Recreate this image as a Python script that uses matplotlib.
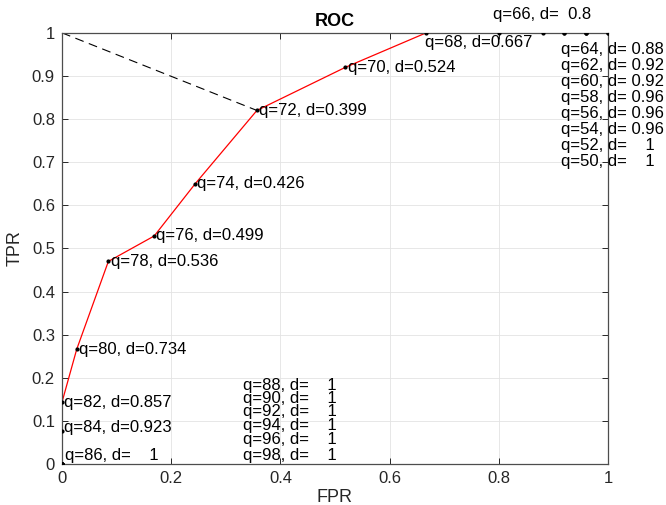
import matplotlib
matplotlib.use('Agg')
import matplotlib.pyplot as plt

plt.rcParams['font.family'] = ['Liberation Sans', 'DejaVu Sans']

# ROC data: threshold q, false/true positive rate, distance d to (0,1)
q = [50, 52, 54, 56, 58, 60, 62, 64, 66, 68, 70, 72, 74,
     76, 78, 80, 82, 84, 86, 88, 90, 92, 94, 96, 98]
fpr = [1, 1, 0.96, 0.96, 0.96, 0.92, 0.92, 0.88, 0.8, 0.667, 0.519, 0.357, 0.244,
       0.169, 0.085, 0.027, 0, 0, 0, 0, 0, 0, 0, 0, 0]
tpr = [1, 1, 1, 1, 1, 1, 1, 1, 1, 1, 0.92, 0.82, 0.65,
       0.529, 0.47, 0.266, 0.143, 0.077, 0, 0, 0, 0, 0, 0, 0]
d = [1, 1, 0.96, 0.96, 0.96, 0.92, 0.92, 0.88, 0.8, 0.667, 0.524, 0.399, 0.426,
     0.499, 0.536, 0.734, 0.857, 0.923, 1, 1, 1, 1, 1, 1, 1]

# where each label sits (left edge, vertical centre), in data units
label_x = [0.914] * 8 + [0.789, 0.665, 0.523, 0.361, 0.248,
                         0.173, 0.089, 0.031, 0.004, 0.004, 0.005] + [0.332] * 6
label_y = [0.701, 0.738, 0.775, 0.812, 0.849, 0.886, 0.924, 0.961, 1.042, 0.977,
           0.92, 0.82, 0.65, 0.529, 0.47, 0.266, 0.143, 0.084, 0.021,
           0.183, 0.153, 0.123, 0.090, 0.058, 0.021]

fig = plt.figure(figsize=(6.66, 5.05), dpi=100)
ax = fig.add_axes([0.093, 0.081, 0.820, 0.854])

ax.plot(fpr, tpr, color='red', lw=0.9, zorder=2)
ax.plot(fpr, tpr, 'k.', ms=4, zorder=3)

# line from the ideal corner to the closest point
best = d.index(min(d))
ax.plot([0, fpr[best]], [1, tpr[best]], color='black', lw=0.8,
        linestyle=(0, (8, 5)), zorder=2)

for qi, di, lx, ly in zip(q, d, label_x, label_y):
    ax.text(lx, ly, f'q={qi}, d={di:5.3g}', fontsize=12, va='center', ha='left')

ax.set_xlim(0, 1)
ax.set_ylim(0, 1)
ax.set_xticks([0, 0.2, 0.4, 0.6, 0.8, 1])
ax.set_xticklabels(['0', '0.2', '0.4', '0.6', '0.8', '1'])
ax.set_yticks([i / 10 for i in range(11)])
ax.set_yticklabels(['0'] + [f'{i / 10:g}' for i in range(1, 10)] + ['1'])
ax.grid(True, color='#e3e3e3', lw=0.6)
ax.set_axisbelow(True)
ax.tick_params(direction='in', top=True, right=True, labelsize=12,
               colors='#262626', length=4, width=0.7, pad=5)
for s in ax.spines.values():
    s.set_color('#4d4d4d')
    s.set_linewidth(0.9)

ax.set_xlabel('FPR', fontsize=13, color='#262626', labelpad=2)
ax.set_ylabel('TPR', fontsize=13, color='#262626', labelpad=6)
ax.set_title('ROC', fontsize=13, fontweight='bold', pad=5)

fig.savefig('out.png', dpi=100)
